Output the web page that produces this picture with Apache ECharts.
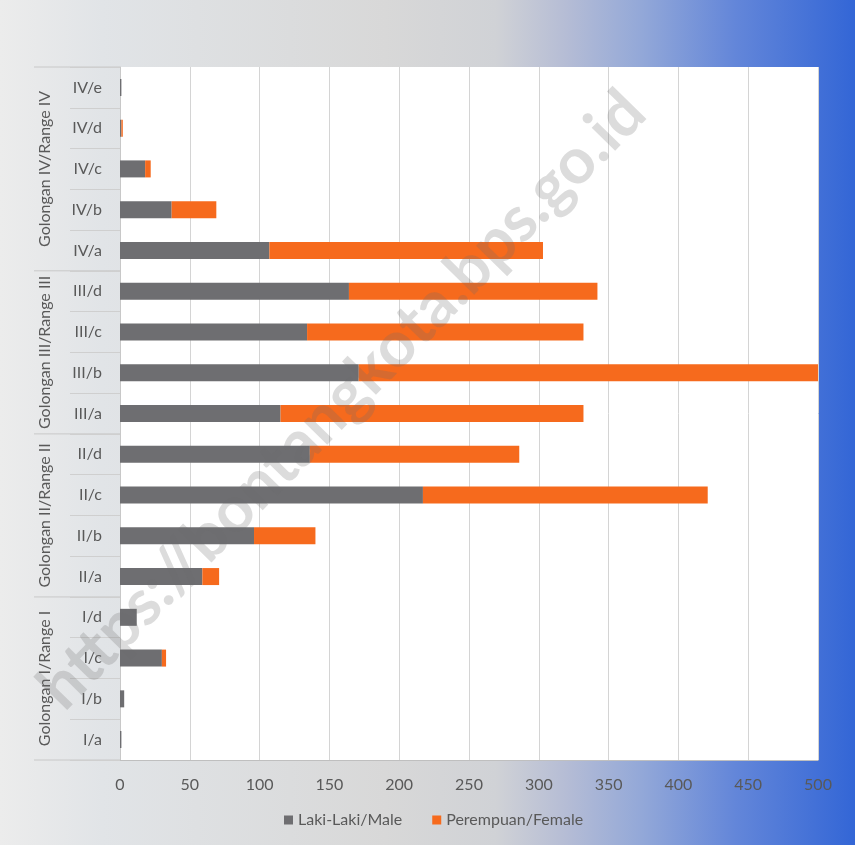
<!DOCTYPE html>
<html>
<head>
<meta charset="utf-8">
<script src="https://cdn.jsdelivr.net/npm/echarts@6/dist/echarts.min.js"></script>
<style>html,body{margin:0;padding:0;}#c{width:855px;height:845px;}</style>
</head>
<body>
<div id="c"></div>
<script>
// Categories listed top to bottom
var categories = ['IV/e','IV/d','IV/c','IV/b','IV/a','III/d','III/c','III/b','III/a','II/d','II/c','II/b','II/a','I/d','I/c','I/b','I/a'];
var male   = [1, 1, 18, 37, 107, 164, 134, 171, 115, 136, 217, 96, 59, 12, 30, 3, 1];
var female = [0, 1, 4, 32, 196, 178, 198, 329, 217, 150, 204, 44, 12, 0, 3, 0, 0];
var groupNames = ['Golongan IV/Range IV','Golongan III/Range III','Golongan II/Range II','Golongan I/Range I'];
var groupSizes = [5, 4, 4, 4];
var seriesNames = ['Laki-Laki/Male','Perempuan/Female'];
var xTicks = [0, 50, 100, 150, 200, 250, 300, 350, 400, 450, 500];

var FONT = 'Lato, "Open Sans", sans-serif';
var TXT = '#595959';
var chart = echarts.init(document.getElementById('c'));
var option = {
  backgroundColor: {
    type: 'linear', x: 0, y: 0, x2: 1, y2: 0,
    colorStops: [
      {offset: 0, color: '#ececec'},
      {offset: 0.12, color: '#e1e4e7'},
      {offset: 0.45, color: '#d8d8d8'},
      {offset: 0.58, color: '#d0d2d6'},
      {offset: 0.66, color: '#b6bdd5'},
      {offset: 0.75, color: '#93a8d8'},
      {offset: 0.86, color: '#6386d9'},
      {offset: 1, color: '#3366d6'}
    ]
  },
  textStyle: {fontFamily: FONT},
  animation: false,
  grid: {left: 120, right: 37, top: 67, bottom: 85, show: true, backgroundColor: '#ffffff', borderWidth: 0},
  legend: {
    bottom: 12, left: 279, icon: 'rect', itemWidth: 9, itemHeight: 9, itemGap: 30,
    textStyle: {color: TXT, fontSize: 16, fontFamily: FONT},
    data: seriesNames
  },
  xAxis: {
    type: 'value', min: 0, max: 500, interval: 50,
    axisLine: {show: true, lineStyle: {color: '#bfbfbf'}},
    axisTick: {show: false},
    axisLabel: {color: TXT, fontSize: 16, margin: 17, fontFamily: FONT,
      formatter: function (v) { return xTicks.indexOf(v) >= 0 ? String(v) : ''; }},
    splitLine: {show: true, lineStyle: {color: '#d4d4d4', width: 1}}
  },
  yAxis: {
    type: 'category', inverse: true, data: categories,
    axisLine: {show: true, lineStyle: {color: '#c8c8c8'}},
    axisTick: {show: true, length: 50, lineStyle: {color: '#cfcfcf'}},
    axisLabel: {color: TXT, fontSize: 16, margin: 18, fontFamily: FONT},
    splitLine: {show: false}
  },
  series: [
    {name: seriesNames[0], type: 'bar', stack: 'a', data: male, barWidth: 17,
      itemStyle: {color: '#6e6e71'}},
    {name: seriesNames[1], type: 'bar', stack: 'a', data: female, barWidth: 17,
      itemStyle: {color: '#f66a1d'}}
  ]
};
chart.setOption(option);

// group labels and separator lines positioned from the axis scale
var centers = categories.map(function (c) { return chart.convertToPixel({yAxisIndex: 0}, c); });
var band = centers[1] - centers[0];
var elems = [];
var leftX = 34, axisX = chart.convertToPixel({xAxisIndex: 0}, 0);
var idx = 0;
var topY = centers[0] - band / 2;
elems.push({type: 'line', shape: {x1: leftX, y1: topY, x2: axisX, y2: topY}, style: {stroke: '#c8c8c8', lineWidth: 1}});
for (var g = 0; g < groupNames.length; g++) {
  var first = idx, last = idx + groupSizes[g] - 1;
  var cy = (centers[first] + centers[last]) / 2;
  var bottomY = centers[last] + band / 2;
  elems.push({type: 'line', shape: {x1: leftX, y1: bottomY, x2: axisX, y2: bottomY}, style: {stroke: '#c8c8c8', lineWidth: 1}});
  elems.push({type: 'text', x: 45, y: cy, rotation: Math.PI / 2,
    style: {text: groupNames[g], fill: TXT, font: '16px ' + FONT, align: 'center', verticalAlign: 'middle'}});
  idx += groupSizes[g];
}
// watermark
elems.push({type: 'text', x: 342, y: 400, rotation: Math.PI / 4 + 0.01, z: 100,
  style: {text: 'https://bontangkota.bps.go.id', fill: 'rgba(110,110,110,0.24)', font: 'bold 64px ' + FONT, align: 'center', verticalAlign: 'middle'}});
chart.setOption({graphic: {elements: elems}});
</script>
</body>
</html>
